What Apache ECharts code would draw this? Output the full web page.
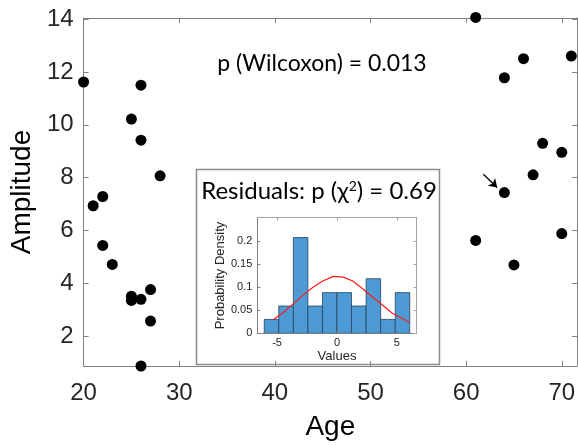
<!DOCTYPE html>
<html>
<head>
<meta charset="utf-8">
<script src="https://cdn.jsdelivr.net/npm/echarts@6/dist/echarts.min.js"></script>
<style>html,body{margin:0;padding:0;background:#fff;}#c{width:578px;height:446px;}</style>
</head>
<body>
<div id="c"></div>
<script>
// ---- main scatter data ----
var ages = [20, 21, 22, 22, 23, 25, 25, 25, 26, 26, 26, 26, 27, 27, 28,
            61, 61, 64, 64, 65, 66, 67, 68, 70, 70, 71];
var amplitudes = [11.62, 6.94, 7.29, 5.44, 4.72, 10.22, 3.52, 3.36, 11.5, 9.42, 3.4, 0.88, 3.77, 2.58, 8.07,
                  14.06, 5.63, 11.78, 7.44, 4.7, 12.5, 8.11, 9.3, 8.96, 5.89, 12.6];
var xTicks = [20, 30, 40, 50, 60, 70];
var yTicks = [2, 4, 6, 8, 10, 12, 14];
var arrowFrom = [61.8, 8.13];
var arrowTo = [63.25, 7.63];

// ---- inset histogram of residuals ----
var binEdges = [-6.07, -4.86, -3.64, -2.43, -1.21, 0.0, 1.21, 2.43, 3.64, 4.86, 6.07];
var binDensity = [0.030, 0.059, 0.207, 0.059, 0.088, 0.088, 0.059, 0.118, 0.030, 0.088];
var fitX = [-5.31, -4.53, -3.69, -2.86, -2.03, -1.19, -0.3, 0.53, 1.31, 2.14, 2.97, 3.81, 4.64, 5.47, 6.03];
var fitY = [0.030, 0.044, 0.063, 0.082, 0.099, 0.113, 0.123, 0.1215, 0.113, 0.0965, 0.0786, 0.0607, 0.043, 0.032, 0.023];
var histXTicks = [-5, 0, 5];
var histYTicks = [0, 0.05, 0.1, 0.15, 0.2];

var scatterData = ages.map(function (a, i) { return [a, amplitudes[i]]; });
var histData = binDensity.map(function (d, i) { return [binEdges[i], binEdges[i + 1], d]; });
var fitData = fitX.map(function (x, i) { return [x, fitY[i]]; });

var axisGray = '#808080';
var labelColor = '#262626';
var tickFont = 'Liberation Sans, Arial, sans-serif';

var chart = echarts.init(document.getElementById('c'), null, { renderer: 'canvas' });

var option = {
  animation: false,
  backgroundColor: '#ffffff',
  grid: [
    { left: 80, top: 18, width: 499, height: 359.7, show: false },
    { left: 257.3, top: 217.7, width: 159.4, height: 115.6, show: false }
  ],
  xAxis: [
    {
      type: 'value', gridIndex: 0, min: 20, max: 71.6, position: 'bottom',
      name: 'Age', nameLocation: 'middle', nameGap: 47,
      nameTextStyle: { fontSize: 28, color: '#000', fontFamily: tickFont },
      axisLine: { show: true, onZero: false, lineStyle: { color: axisGray, width: 1 } },
      axisTick: { show: true, inside: true, length: 5, customValues: xTicks, lineStyle: { color: axisGray } },
      axisLabel: { show: true, customValues: xTicks, fontSize: 24, color: labelColor, fontFamily: tickFont, margin: 15 },
      splitLine: { show: false }
    },
    {
      type: 'value', gridIndex: 0, min: 20, max: 71.6, position: 'top',
      axisLine: { show: true, onZero: false, lineStyle: { color: axisGray, width: 1 } },
      axisTick: { show: true, inside: true, length: 5, customValues: xTicks, lineStyle: { color: axisGray } },
      axisLabel: { show: false }, splitLine: { show: false }
    },
    {
      type: 'value', gridIndex: 1, min: -6.65, max: 6.65, position: 'bottom', z: 5,
      name: 'Values', nameLocation: 'middle', nameGap: 17,
      nameTextStyle: { fontSize: 13, color: labelColor, fontFamily: tickFont },
      axisLine: { show: true, onZero: false, lineStyle: { color: axisGray, width: 1 } },
      axisTick: { show: true, inside: true, length: 3, customValues: histXTicks, lineStyle: { color: axisGray } },
      axisLabel: { show: true, customValues: histXTicks, fontSize: 11, color: labelColor, fontFamily: tickFont, margin: 4 },
      splitLine: { show: false }
    },
    {
      type: 'value', gridIndex: 1, min: -6.65, max: 6.65, position: 'top', z: 5,
      axisLine: { show: true, onZero: false, lineStyle: { color: '#a6a6a6', width: 1 } },
      axisTick: { show: true, inside: true, length: 3, customValues: histXTicks, lineStyle: { color: '#a6a6a6' } },
      axisLabel: { show: false }, splitLine: { show: false }
    }
  ],
  yAxis: [
    {
      type: 'value', gridIndex: 0, min: 0.88, max: 14.04, position: 'left',
      name: 'Amplitude', nameLocation: 'middle', nameGap: 40,
      nameTextStyle: { fontSize: 28, color: '#000', fontFamily: tickFont },
      axisLine: { show: true, onZero: false, lineStyle: { color: axisGray, width: 1 } },
      axisTick: { show: true, inside: true, length: 5, customValues: yTicks, lineStyle: { color: axisGray } },
      axisLabel: { show: true, customValues: yTicks, fontSize: 24, color: labelColor, fontFamily: tickFont, margin: 10 },
      splitLine: { show: false }
    },
    {
      type: 'value', gridIndex: 0, min: 0.88, max: 14.04, position: 'right',
      axisLine: { show: true, onZero: false, lineStyle: { color: axisGray, width: 1 } },
      axisTick: { show: true, inside: true, length: 5, customValues: yTicks, lineStyle: { color: axisGray } },
      axisLabel: { show: false }, splitLine: { show: false }
    },
    {
      type: 'value', gridIndex: 1, min: 0, max: 0.25, position: 'left', z: 5,
      name: 'Probability Density', nameLocation: 'middle', nameGap: 27,
      nameTextStyle: { fontSize: 13, color: labelColor, fontFamily: tickFont },
      axisLine: { show: true, onZero: false, lineStyle: { color: axisGray, width: 1 } },
      axisTick: { show: true, inside: true, length: 3, customValues: histYTicks, lineStyle: { color: axisGray } },
      axisLabel: { show: true, customValues: histYTicks, fontSize: 11, color: labelColor, fontFamily: tickFont, margin: 5 },
      splitLine: { show: false }
    },
    {
      type: 'value', gridIndex: 1, min: 0, max: 0.25, position: 'right', z: 5,
      axisLine: { show: true, onZero: false, lineStyle: { color: '#a6a6a6', width: 1 } },
      axisTick: { show: true, inside: true, length: 3, customValues: histYTicks, lineStyle: { color: '#a6a6a6' } },
      axisLabel: { show: false }, splitLine: { show: false }
    }
  ],
  graphic: [
    {
      type: 'rect', z: -10, silent: true,
      shape: { x: 196.5, y: 169.5, width: 243, height: 195 },
      style: { fill: '#ffffff', stroke: '#8c8c8c', lineWidth: 1.5 }
    },
    {
      type: 'text', z: 10, silent: true,
      x: 322, y: 64,
      style: {
        text: 'p (Wilcoxon) = 0.013', fill: '#000',
        font: '23px Lato, "Open Sans", sans-serif',
        textAlign: 'center', textVerticalAlign: 'middle'
      }
    },
    {
      type: 'text', z: 10, silent: true,
      x: 319, y: 191,
      style: {
        text: '{a|Residuals: p (χ}{s|2}{a|) = 0.69}',
        textAlign: 'center', textVerticalAlign: 'middle',
        rich: {
          a: { font: '24px Lato, "Open Sans", sans-serif', fill: '#000' },
          s: { font: '14px Lato, "Open Sans", sans-serif', fill: '#000', verticalAlign: 'top', padding: [0, 0, 10, 0] }
        }
      }
    }
  ],
  series: [
    {
      type: 'scatter', xAxisIndex: 0, yAxisIndex: 0, data: scatterData,
      symbol: 'circle', symbolSize: 11, clip: false,
      itemStyle: { color: '#000', opacity: 1 }, z: 3,
      markLine: {
        silent: true, symbol: ['none', 'arrow'], symbolSize: 8,
        label: { show: false },
        lineStyle: { color: '#000', width: 1.3, type: 'solid' },
        data: [[{ coord: arrowFrom }, { coord: arrowTo }]]
      }
    },
    {
      type: 'custom', xAxisIndex: 2, yAxisIndex: 2, data: histData, z: 3,
      renderItem: function (params, api) {
        var p0 = api.coord([api.value(0), api.value(2)]);
        var p1 = api.coord([api.value(1), 0]);
        return {
          type: 'rect',
          shape: { x: p0[0], y: p0[1], width: p1[0] - p0[0], height: p1[1] - p0[1] },
          style: { fill: '#4d9ad4', stroke: '#24425a', lineWidth: 0.8 }
        };
      },
      encode: { x: [0, 1], y: 2 }
    },
    {
      type: 'line', xAxisIndex: 2, yAxisIndex: 2, data: fitData, z: 4,
      symbol: 'none', smooth: false,
      lineStyle: { color: '#ff1a1a', width: 1.2 }
    }
  ]
};
chart.setOption(option);
</script>
</body>
</html>
